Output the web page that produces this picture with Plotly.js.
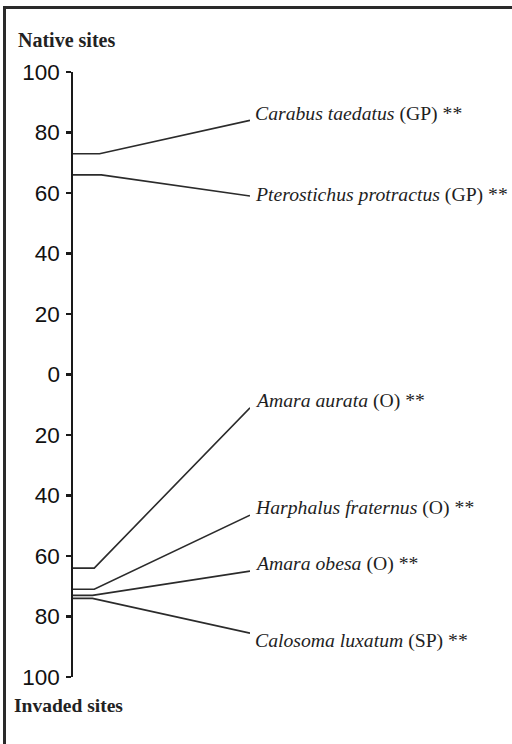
<!DOCTYPE html>
<html>
<head>
<meta charset="utf-8">
<script src="https://cdn.plot.ly/plotly-3.0.1.min.js"></script>
<style>
  html, body { margin: 0; padding: 0; background: #fff; overflow: hidden; }
  #wrap { position: relative; width: 512px; height: 744px; overflow: hidden; }
  #chart { width: 512px; height: 744px; }
  #frame { position: absolute; left: 3px; top: 6px; width: 600px; height: 800px;
           border-left: 3px solid #2a2a2a; border-top: 3px solid #2a2a2a;
           pointer-events: none; }
</style>
</head>
<body>
<div id="wrap">
  <div id="chart"></div>
  <div id="frame"></div>
</div>
<script>
// ---- data ----
const species   = ['Carabus taedatus', 'Pterostichus protractus', 'Amara aurata', 'Harphalus fraternus', 'Amara obesa', 'Calosoma luxatum'];
const guilds    = ['GP', 'GP', 'O', 'O', 'O', 'SP'];
const signif    = ['**', '**', '**', '**', '**', '**'];
const siteSide  = ['native', 'native', 'invaded', 'invaded', 'invaded', 'invaded'];
const startVals = [73, 66, 64, 71, 73, 74];
const endVals   = [84, 59, 11, 46.5, 65, 85.5];
const kneeX     = [0.15, 0.16, 0.12, 0.12, 0.11, 0.11];
const tickVals  = [100, 80, 60, 40, 20, 0, -20, -40, -60, -80, -100];
const tickText  = ['100', '80', '60', '40', '20', '0', '20', '40', '60', '80', '100'];

// label vertical nudges (px), styling only
const labelNudge = [7, 2, 7, 8, 8, -7];

const sign = s => (s === 'native' ? 1 : -1);

const traces = species.map((sp, i) => {
  const s = sign(siteSide[i]);
  return {
    type: 'scatter',
    mode: 'lines',
    x: [0, kneeX[i], 1],
    y: [s * startVals[i], s * startVals[i], s * endVals[i]],
    line: { color: '#2b2b2b', width: 1.6 },
    hoverinfo: 'skip',
    cliponaxis: false,
    showlegend: false
  };
});

const annotations = species.map((sp, i) => ({
  x: 1, y: sign(siteSide[i]) * endVals[i],
  xref: 'x', yref: 'y',
  xanchor: 'left', yanchor: 'middle',
  xshift: 4, yshift: labelNudge[i],
  showarrow: false, borderpad: 0,
  text: '<i>' + sp + '</i> (' + guilds[i] + ') ' + signif[i],
  font: { family: 'Liberation Serif, Times New Roman, serif', size: 19.7, color: '#1e1e1e' }
}));

annotations.push({
  x: -0.316, y: (677 - 40) / 605, xref: 'paper', yref: 'paper',
  xanchor: 'left', yanchor: 'middle', showarrow: false, borderpad: 0,
  text: '<b>Native sites</b>',
  font: { family: 'Liberation Serif, Times New Roman, serif', size: 20, color: '#222' }
});
annotations.push({
  x: -0.339, y: (677 - 705) / 605, xref: 'paper', yref: 'paper',
  xanchor: 'left', yanchor: 'middle', showarrow: false, borderpad: 0,
  text: '<b>Invaded sites</b>',
  font: { family: 'Liberation Serif, Times New Roman, serif', size: 19.5, color: '#222' }
});

const layout = {
  width: 512, height: 744,
  margin: { l: 73, r: 262, t: 72, b: 67, pad: 0 },
  paper_bgcolor: '#fff', plot_bgcolor: '#fff',
  xaxis: { range: [0, 1], visible: false, fixedrange: true },
  yaxis: {
    range: [-100, 100],
    tickmode: 'array', tickvals: tickVals, ticktext: tickText,
    showline: true, linecolor: '#1a1a1a', linewidth: 1.6,
    ticks: 'outside', ticklen: 5, tickwidth: 2.2, tickcolor: '#1a1a1a',
    ticklabelstandoff: 2,
    showgrid: false, zeroline: false,
    tickfont: { family: 'Liberation Sans, Arial, sans-serif', size: 22.5, color: '#111' },
    fixedrange: true
  },
  annotations: annotations,
  showlegend: false
};

Plotly.newPlot('chart', traces, layout, { displayModeBar: false, staticPlot: true });
</script>
</body>
</html>
